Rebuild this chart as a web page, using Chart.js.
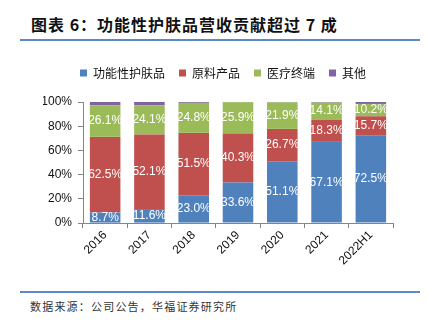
<!DOCTYPE html>
<html>
<head>
<meta charset="utf-8">
<script src="https://cdn.jsdelivr.net/npm/chart.js@4.4.0/dist/chart.umd.min.js"></script>
<style>
  body { margin: 0; width: 429px; height: 322px; background: #fff; position: relative; overflow: hidden; font-family: "Noto Sans CJK SC", sans-serif; }
  #title { position: absolute; left: 31px; top: 12px; font-size: 16px; font-weight: bold; color: #111; letter-spacing: 1px; white-space: nowrap; }
  .rule { position: absolute; left: 20px; width: 400px; height: 2px; background: #5b8ac6; }
  #foot { position: absolute; left: 30px; top: 298px; font-size: 11px; color: #333; letter-spacing: 1.2px; white-space: nowrap; }
  #wrap { position: absolute; left: 0; top: 52px; width: 429px; height: 232px; }
</style>
</head>
<body>
<div id="title">图表 6：功能性护肤品营收贡献超过 7 成</div>
<div class="rule" style="top:39px"></div>
<div id="wrap"><canvas id="chart"></canvas></div>
<div class="rule" style="top:291px"></div>
<div id="foot">数据来源：公司公告，华福证券研究所</div>
<script>
// categories and shares (%)
const years = ['2016', '2017', '2018', '2019', '2020', '2021', '2022H1'];
const skincare = [8.7, 11.6, 23.0, 33.6, 51.1, 67.1, 72.5];
const rawMaterial = [62.5, 61.6, 51.5, 40.3, 26.7, 18.3, 15.7];
const medical = [26.1, 24.1, 24.8, 25.9, 21.9, 14.1, 10.2];
const others = [2.7, 2.7, 0.7, 0.2, 0.3, 0.5, 1.6];
// printed labels as they appear on the picture
const rawMaterialText = [62.5, 52.1, 51.5, 40.3, 26.7, 18.3, 15.7];
const yTicks = [0, 20, 40, 60, 80, 100];

const labelPlugin = {
    id: 'segLabels',
    afterLayout(chart) {
        // nudge the legend a bit right and up, like the original
        chart.legend.left += 5;
        chart.legend.right += 5;
        chart.legend.top -= 13;
        chart.legend.bottom -= 13;
    },
    afterDatasetsDraw(chart) {
        const ctx = chart.ctx;
        ctx.save();
        ctx.fillStyle = '#fff';
        ctx.font = '12px "Liberation Sans", Arial, sans-serif';
        ctx.textAlign = 'center';
        ctx.textBaseline = 'middle';
        [0, 1, 2].forEach(function (di) {
            const meta = chart.getDatasetMeta(di);
            const texts = di === 1 ? rawMaterialText : chart.data.datasets[di].data;
            meta.data.forEach(function (bar, i) {
                ctx.fillText(texts[i].toFixed(1) + '%', bar.x, (bar.y + bar.base) / 2);
            });
        });
        ctx.restore();
    }
};

const ctx = document.getElementById('chart').getContext('2d');
new Chart(ctx, {
    type: 'bar',
    data: {
        labels: years,
        datasets: [
            { label: '功能性护肤品', data: skincare, backgroundColor: '#4f81bd' },
            { label: '原料产品', data: rawMaterial, backgroundColor: '#c0504d' },
            { label: '医疗终端', data: medical, backgroundColor: '#9bbb59' },
            { label: '其他', data: others, backgroundColor: '#8064a2' }
        ]
    },
    options: {
        responsive: true,
        maintainAspectRatio: false,
        animation: false,
        layout: { padding: { left: 43, right: 36, top: 14, bottom: 16 } },
        datasets: { bar: { categoryPercentage: 1, barPercentage: 0.69 } },
        plugins: {
            legend: {
                position: 'top',
                labels: {
                    boxWidth: 7,
                    boxHeight: 7,
                    padding: 14,
                    color: '#111',
                    font: { size: 12, family: '"Noto Sans CJK SC", sans-serif' }
                }
            },
            tooltip: { enabled: false }
        },
        scales: {
            x: {
                stacked: true,
                grid: { drawOnChartArea: false, drawTicks: true, tickLength: 5, color: '#868686' },
                border: { color: '#868686' },
                ticks: {
                    maxRotation: 45,
                    minRotation: 45,
                    color: '#111',
                    padding: 0,
                    font: { size: 12, family: '"Liberation Sans", Arial, sans-serif' }
                }
            },
            y: {
                stacked: true,
                min: 0,
                max: 100,
                afterFit(scale) { scale.width = 40; },
                afterBuildTicks(scale) { scale.ticks = yTicks.map(function (v) { return { value: v }; }); },
                grid: { drawOnChartArea: false, drawTicks: true, tickLength: 5, color: '#868686' },
                border: { color: '#868686' },
                ticks: {
                    color: '#111',
                    padding: 6,
                    font: { size: 12, family: '"Liberation Sans", Arial, sans-serif' },
                    callback: function (v) { return v + '%'; }
                }
            }
        }
    },
    plugins: [labelPlugin]
});
</script>
</body>
</html>
